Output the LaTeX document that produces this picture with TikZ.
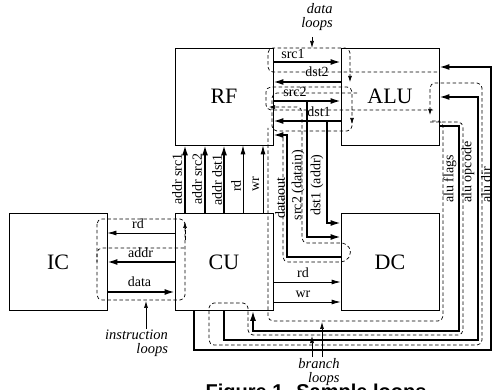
\documentclass[tikz,border=0pt]{standalone}
\usepackage{fontspec}
\setmainfont{Liberation Serif}
\newfontfamily\capfont{Liberation Sans}
\usetikzlibrary{arrows.meta}
\begin{document}
\begin{tikzpicture}[x=1pt,y=-1pt,
  unit/.style={draw, line width=0.8pt, minimum width=98pt, minimum height=97pt, inner sep=0pt, font=\fontsize{22}{22}\selectfont},
  lbl/.style={inner sep=0pt, font=\fontsize{14}{14}\selectfont},
  vlbl/.style={lbl, rotate=90},
  note/.style={inner sep=0pt, align=right, font=\fontsize{14.5}{13.5}\selectfont\itshape},
  bus/.style={line width=1.6pt, -{Latex[length=10pt,width=6pt]}},
  wire/.style={line width=0.8pt, -{Latex[length=9pt,width=5pt]}},
  loopline/.style={line width=0.7pt, dash pattern=on 3.5pt off 2.5pt, rounded corners=5pt},
  looparrow/.style={loopline, -{Latex[length=6pt,width=4pt]}},
  pointer/.style={line width=0.7pt, -{Latex[length=7pt,width=4pt]}}
]
\useasboundingbox (0,0) rectangle (493,390);

% units
\node[unit] (RF) at (224,96.5) {RF};
\node[unit] (ALU) at (390,96.5) {ALU};
\node[unit] (IC) at (58,262) {IC};
\node[unit] (CU) at (224,262) {CU};
\node[unit] (DC) at (390,262) {DC};

% RF <-> ALU
\draw[bus] (RF.east |- 0,62) -- (ALU.west |- 0,62);
\draw[bus] (ALU.west |- 0,82) -- (RF.east |- 0,82);
\draw[bus] (RF.east |- 0,101) -- (ALU.west |- 0,101);
\draw[bus] (ALU.west |- 0,121) -- (RF.east |- 0,121);
\node[lbl] (lsrc1) at (293,54) {src1};
\node[lbl] (ldst2) at (317,72) {dst2};
\node[lbl] (lsrc2) at (295,92) {src2};
\node[lbl] (ldst1) at (319,112) {dst1};

% to / from DC
\coordinate (s2tap) at (307,101);
\coordinate (d1tap) at (327,121);
\draw[bus] (s2tap) -- (307,237) -- (DC.west |- 0,237);
\draw[bus] (d1tap) -- (327,223) -- (DC.west |- 0,223);
\draw[bus] (DC.west |- 0,257) -- (287,257) -- (287,135) -- (RF.east |- 0,135);
\node[vlbl] (ldout) at (280,198) {dataout};
\node[vlbl] (ldin) at (298,185) {src2 (datain)};
\node[vlbl] (laddr) at (317,185) {dst1 (addr)};

% CU -> RF
\draw[bus] (185,0 |- CU.north) -- (185,0 |- RF.south);
\draw[bus] (205,0 |- CU.north) -- (205,0 |- RF.south);
\draw[bus] (224,0 |- CU.north) -- (224,0 |- RF.south);
\draw[wire] (243,0 |- CU.north) -- (243,0 |- RF.south);
\draw[wire] (263,0 |- CU.north) -- (263,0 |- RF.south);
\node[vlbl] (las1) at (177,179) {addr src1};
\node[vlbl] (las2) at (197,179) {addr src2};
\node[vlbl] (lad1) at (217,180) {addr dst1};
\node[vlbl] (lrd) at (236,186) {rd};
\node[vlbl] (lwr) at (256,184) {wr};

% IC <-> CU
\draw[wire] (CU.west |- 0,233) -- (IC.east |- 0,233);
\draw[bus] (CU.west |- 0,262) -- (IC.east |- 0,262);
\draw[bus] (IC.east |- 0,292) -- (CU.west |- 0,292);
\node[lbl] (lird) at (138,224) {rd};
\node[lbl] (liaddr) at (140.5,253) {addr};
\node[lbl] (lidata) at (139.5,282) {data};

% CU -> DC
\draw[wire] (CU.east |- 0,282) -- (DC.west |- 0,282);
\draw[wire] (CU.east |- 0,302) -- (DC.west |- 0,302);
\node[lbl] (ldrd) at (303,273) {rd};
\node[lbl] (ldwr) at (303,294) {wr};

% ALU <-> CU
\draw[bus] (ALU.east |- 0,126) -- (459,126) -- (459,331) -- (253,331) -- (253,0 |- CU.south);
\draw[bus] (224,0 |- CU.south) -- (224,340) -- (478,340) -- (478,97) -- (ALU.east |- 0,97);
\draw[bus] (194,0 |- CU.south) -- (194,350) -- (491,350) -- (491,67) -- (ALU.east |- 0,67);
\node[vlbl, anchor=west] (lflags) at (450,203) {alu flags};
\node[vlbl, anchor=west] (lopc) at (468,203) {alu opcode};
\node[vlbl, anchor=west] (ldir) at (486,203) {alu dir};

% data loops
\draw[looparrow] (437,72) -- (268,72) -- (268,48) -- (350,48) -- (350,82);
\draw[looparrow] (433,110) -- (266,110) -- (266,87) -- (352,87) -- (352,124);
\draw[loopline] (357,93) -- (272,93) -- (272,131) -- (352,131) -- (352,118);
\draw[looparrow] (283,138) -- (283,262) -- (346,262) -- (352,252) -- (346,243) -- (302,243) -- (302,107) -- (269,107);

% instruction loops
\draw[loopline] (97,219) rectangle (185,300);
\draw[looparrow] (185,240) -- (185,222);
\draw[loopline] (184,248) -- (97,248) -- (97,262);

% branch loops
\draw[loopline] (432,121) -- (443,121) -- (443,321) -- (268,321) -- (268,128);
\draw[looparrow] (430,122) -- (463,122) -- (463,335) -- (248,335) -- (248,303) -- (209,303) -- (209,345) -- (482,345) -- (482,83) -- (430,83) -- (430,115);

% loop notes
\node[note] (ndata) at (317,17) {data\\loops};
\draw[pointer] (312,37) -- (312,48);
\node[note] (ninst) at (136.5,343) {instruction\\loops};
\draw[pointer] (146,329) -- (146,301);
\node[note] (nbranch) at (319,372) {branch\\loops};
\draw[pointer] (312,357) -- (312,336);
\draw[pointer] (322,357) -- (322,322);

% caption
\node[anchor=base, inner sep=0pt, font=\capfont\bfseries\fontsize{20}{20}\selectfont] (cap) at (316,398) {Figure 1. Sample loops};
\end{tikzpicture}
\end{document}
